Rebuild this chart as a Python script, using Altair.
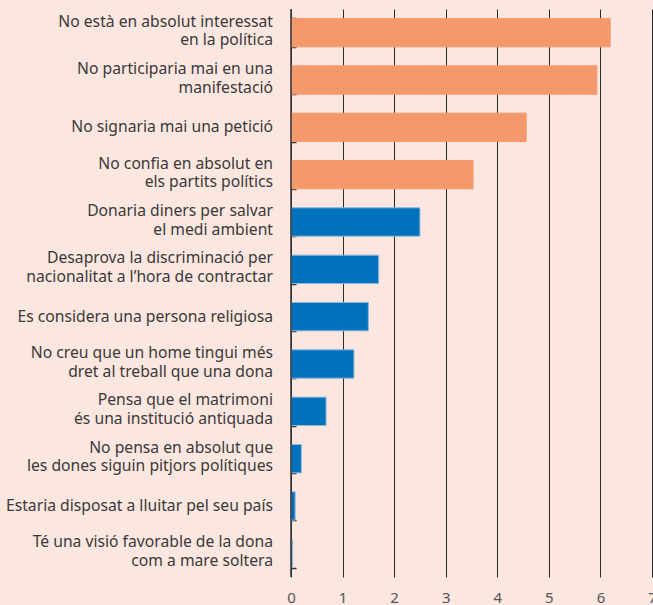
import altair as alt
import pandas as pd

categories = [
    "No està en absolut interessat|en la política",
    "No participaria mai en una|manifestació",
    "No signaria mai una petició",
    "No confia en absolut en|els partits polítics",
    "Donaria diners per salvar|el medi ambient",
    "Desaprova la discriminació per|nacionalitat a l’hora de contractar",
    "Es considera una persona religiosa",
    "No creu que un home tingui més|dret al treball que una dona",
    "Pensa que el matrimoni|és una institució antiquada",
    "No pensa en absolut que|les dones siguin pitjors polítiques",
    "Estaria disposat a lluitar pel seu país",
    "Té una visió favorable de la dona|com a mare soltera",
]
values = [6.19, 5.93, 4.56, 3.53, 2.50, 1.70, 1.50, 1.22, 0.68, 0.20, 0.08, 0.03]
groups = ["A"] * 4 + ["B"] * 8
x_ticks = [0, 1, 2, 3, 4, 5, 6, 7]

df = pd.DataFrame({"cat": categories, "val": values, "grp": groups})

FONT = "Noto Sans"

y_enc = alt.Y(
    "cat:N",
    sort=categories,
    title=None,
    scale=alt.Scale(paddingInner=0.4, paddingOuter=0.2),
    axis=alt.Axis(
        domain=False,
        grid=False,
        ticks=True,
        tickBand="extent",
        tickSize=5,
        tickColor="#333333",
        tickWidth=1.5,
        offset=-5,
        labels=False,
    ),
)

bars = alt.Chart(df).mark_bar(strokeWidth=1).encode(
    y=y_enc,
    x=alt.X(
        "val:Q",
        title=None,
        scale=alt.Scale(domain=[0, 7], nice=False, zero=True),
        axis=alt.Axis(
            values=x_ticks,
            format="d",
            domain=False,
            ticks=False,
            grid=True,
            gridColor="#2a2a2a",
            gridWidth=1,
            labelFont=FONT,
            labelFontSize=15,
            labelColor="#555555",
            labelPadding=13,
            labelFlush=False,
        ),
    ),
    color=alt.Color(
        "grp:N",
        scale=alt.Scale(domain=["A", "B"], range=["#F4996C", "#0071BA"]),
        legend=None,
    ),
    stroke=alt.Stroke(
        "grp:N",
        scale=alt.Scale(domain=["A", "B"], range=["#F4996C", "#8DB8DF"]),
        legend=None,
    ),
)

text_style = dict(
    align="right",
    baseline="middle",
    font=FONT,
    fontSize=15.7,
    color="#3a3a3a",
    lineBreak="|",
    lineHeight=18.5,
)

labels_single = alt.Chart(df).transform_filter(
    "indexof(datum.cat, '|') < 0"
).mark_text(**text_style).encode(
    y=alt.Y("cat:N", sort=categories),
    x=alt.value(-18),
    text="cat:N",
)

labels_multi = alt.Chart(df).transform_filter(
    "indexof(datum.cat, '|') >= 0"
).mark_text(dy=-11, **text_style).encode(
    y=alt.Y("cat:N", sort=categories),
    x=alt.value(-18),
    text="cat:N",
)

domain_line = alt.Chart(pd.DataFrame({"x": [0]})).mark_rule(
    color="#333333", strokeWidth=1.5
).encode(x="x:Q")

chart = alt.layer(bars, domain_line, labels_single, labels_multi).properties(
    width=361,
    height=568,
    background="#FCE6E0",
    padding={"left": 291, "top": 9, "right": 1, "bottom": 28},
    autosize=alt.AutoSizeParams(type="none"),
).configure_view(stroke=None)

chart.save("out.html", embed_options={"renderer": "svg", "actions": False})
